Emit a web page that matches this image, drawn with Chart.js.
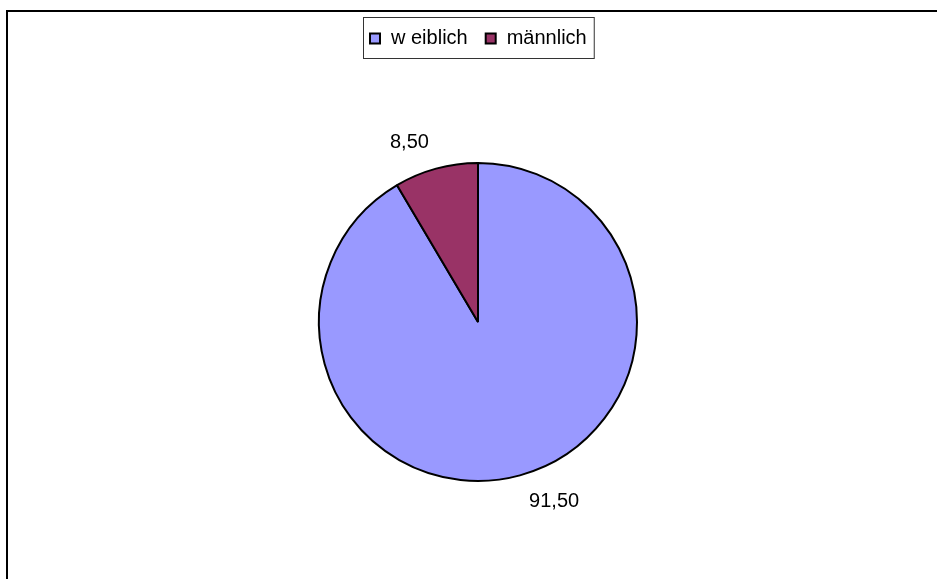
<!DOCTYPE html>
<html>
<head>
<meta charset="utf-8">
<script src="https://cdn.jsdelivr.net/npm/chart.js@4"></script>
<style>
  html, body { margin: 0; padding: 0; background: #fff; }
  #wrap { width: 937px; height: 579px; }
</style>
</head>
<body>
<div id="wrap"><canvas id="pieChart" width="937" height="579"></canvas></div>
<script>
// Anteil weiblich / männlich
const categories = ['w eiblich', 'männlich'];
const shares = [91.5, 8.5];
const sliceColors = ['#9999FF', '#993366'];

const FONT = '20px "Liberation Sans", Arial, sans-serif';

function fmt(v) {
    return v.toFixed(2).replace('.', ',');
}

// outer frame + legend box at the top
const framePlugin = {
    id: 'frame',
    afterDraw(chart) {
        const ctx = chart.ctx;
        ctx.save();
        ctx.strokeStyle = '#000';
        ctx.lineWidth = 2;
        ctx.strokeRect(7, 11, chart.width + 20, chart.height + 20);

        // legend
        ctx.font = FONT;
        ctx.textBaseline = 'middle';
        const box = 10, gapText = 11, gapItem = 18, padX = 7;
        let total = 0;
        const widths = chart.data.labels.map(l => ctx.measureText(l).width);
        widths.forEach((w, i) => { total += box + gapText + w + (i ? gapItem : 0); });
        const cx = (chart.chartArea.left + chart.chartArea.right) / 2;
        const left = Math.round(cx - total / 2 - padX);
        const top = 17, h = 41;
        ctx.lineWidth = 1;
        ctx.strokeStyle = '#333';
        ctx.strokeRect(left + 0.5, top + 0.5, total + padX * 2, h);
        let x = left + padX;
        const y = top + h / 2 + 1;
        chart.data.labels.forEach((l, i) => {
            ctx.fillStyle = chart.data.datasets[0].backgroundColor[i];
            ctx.fillRect(x, y - box / 2, box, box);
            ctx.strokeStyle = '#000';
            ctx.lineWidth = 2;
            ctx.strokeRect(x, y - box / 2, box, box);
            ctx.fillStyle = '#000';
            ctx.textAlign = 'left';
            ctx.fillText(l, x + box + gapText, y);
            x += box + gapText + widths[i] + gapItem;
        });
        ctx.restore();
    }
};

// value labels outside each slice
const valueLabels = {
    id: 'valueLabels',
    afterDatasetsDraw(chart) {
        const ctx = chart.ctx;
        const meta = chart.getDatasetMeta(0);
        ctx.save();
        ctx.font = FONT;
        ctx.fillStyle = '#000';
        ctx.textBaseline = 'middle';
        meta.data.forEach((arc, i) => {
            const p = arc.getProps(['x', 'y', 'startAngle', 'endAngle', 'outerRadius'], true);
            const mid = (p.startAngle + p.endAngle) / 2;
            const r = p.outerRadius + 27;
            const lx = p.x + Math.cos(mid) * r;
            const ly = p.y + Math.sin(mid) * r;
            ctx.textAlign = Math.cos(mid) >= 0 ? 'left' : 'right';
            ctx.fillText(fmt(chart.data.datasets[0].data[i]), lx + (Math.cos(mid) >= 0 ? 2 : 0), ly);
        });
        ctx.restore();
    }
};

new Chart(document.getElementById('pieChart'), {
    type: 'pie',
    data: {
        labels: categories,
        datasets: [{
            data: shares,
            backgroundColor: sliceColors,
            borderColor: '#000',
            borderWidth: 2,
            radius: 159
        }]
    },
    options: {
        responsive: false,
        animation: false,
        events: [],
        layout: { padding: { left: 19, right: 0, top: 65, bottom: 0 } },
        plugins: {
            legend: { display: false },
            tooltip: { enabled: false }
        }
    },
    plugins: [framePlugin, valueLabels]
});
</script>
</body>
</html>
